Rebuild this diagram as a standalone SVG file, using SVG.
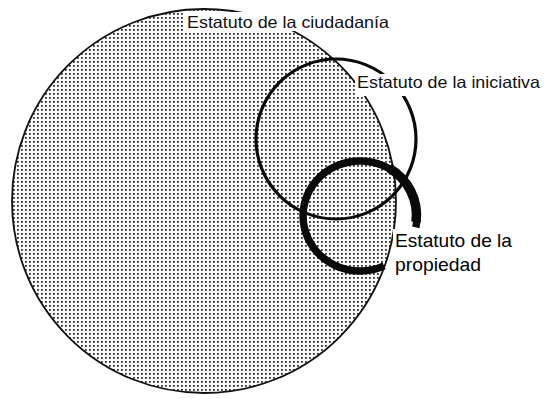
<svg xmlns="http://www.w3.org/2000/svg" width="544" height="399" viewBox="0 0 544 399">
  <defs>
    <pattern id="dots" x="0" y="0" width="4" height="4" patternUnits="userSpaceOnUse">
      <rect x="1" y="1" width="1.8" height="1.8" fill="#2e2e2e"/>
    </pattern>
  </defs>
  <style>
    .lbl { font-family: "Liberation Sans", Arial, sans-serif; fill: #111; }
    .scan { font-size: 16.5px; }
    .crisp { font-size: 18.5px; fill: #000; }
    .box { fill: #ffffff; stroke: none; }
    .ring { fill: none; stroke: #0a0a0a; }
  </style>
  <rect width="544" height="399" fill="#ffffff"/>

  <g id="ciudadania">
    <circle cx="204" cy="201" r="192" fill="url(#dots)" stroke="#111" stroke-width="1.8"/>
    <rect class="box" x="185" y="12" width="207" height="19"/>
    <text class="lbl scan" x="187" y="28" textLength="202" lengthAdjust="spacingAndGlyphs">Estatuto de la ciudadanía</text>
  </g>

  <g id="iniciativa">
    <circle class="ring" cx="336" cy="139" r="80" stroke-width="3.2"/>
    <rect class="box" x="355" y="74" width="189" height="22"/>
    <text class="lbl scan" x="357" y="88" textLength="183" lengthAdjust="spacingAndGlyphs">Estatuto de la iniciativa</text>
  </g>

  <g id="propiedad">
    <path class="ring" d="M384.1,265.8 A57,55 0 1 1 415.8,227.4" stroke-width="7.5"/>
    <path class="ring" d="M389,168 A57,55 0 0 1 416,222" stroke-width="9.5"/>
    <rect class="box" x="393" y="229" width="124" height="57"/>
    <text class="lbl crisp" x="395" y="247" textLength="117" lengthAdjust="spacingAndGlyphs">Estatuto de la</text>
    <text class="lbl crisp" x="395" y="271" textLength="86" lengthAdjust="spacingAndGlyphs">propiedad</text>
  </g>

  <g id="connectors"/>
</svg>
